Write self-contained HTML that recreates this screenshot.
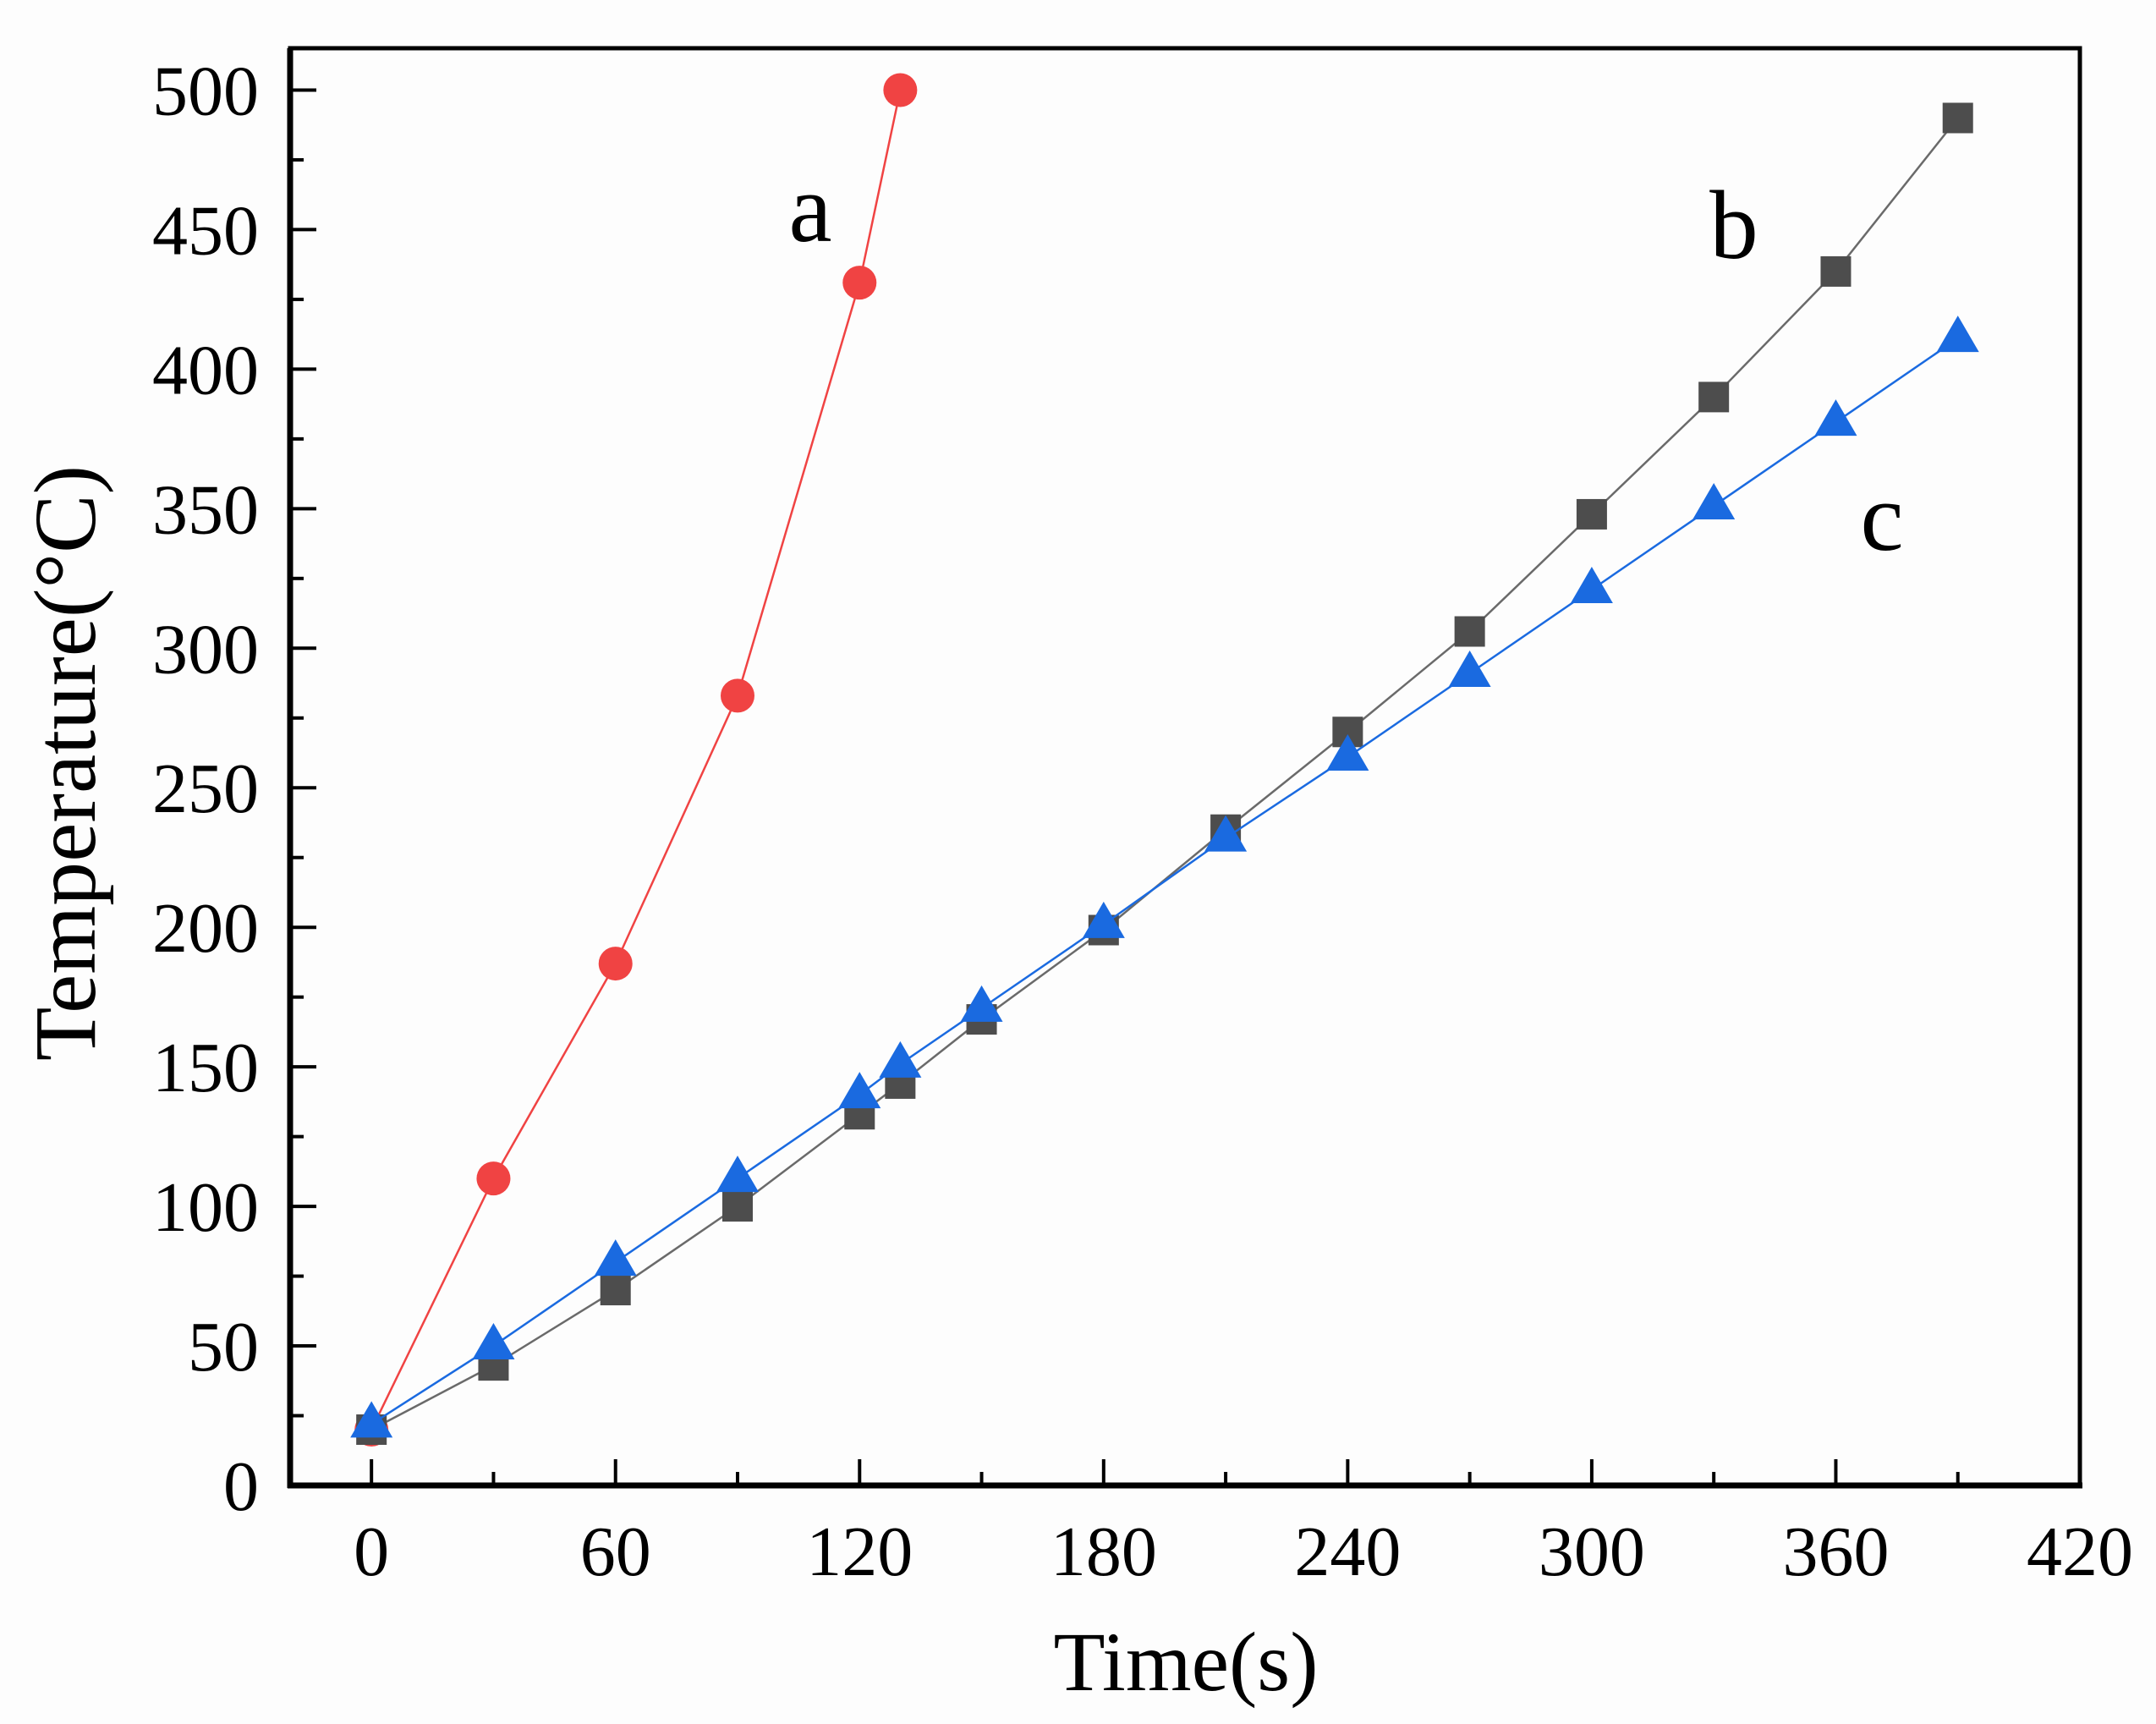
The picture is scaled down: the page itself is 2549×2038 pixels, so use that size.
<!DOCTYPE html>
<html><head><meta charset="utf-8"><style>
html,body{margin:0;padding:0;background:#fdfdfd;}
svg{display:block;font-family:"Liberation Serif",serif;}
</style></head><body>
<svg id="chart" width="2549" height="2038" viewBox="0 0 2549 2038" xmlns="http://www.w3.org/2000/svg">
<rect x="0" y="0" width="2549" height="2038" fill="#fdfdfd"/>
<g id="plot"></g>
</svg>
<script>
const xTicks = [0,60,120,180,240,300,360,420];
const yTicks = [0,50,100,150,200,250,300,350,400,450,500];
const timeA = [0,30,60,90,120,130];
const tempA = [20,110,187,283,431,500];
const timeB = [0,30,60,90,120,130,150,180,210,240,270,300,330,360,390];
const tempB = [20,43,70,100,133,144,167,199,235,270,306,348,390,435,490];
const timeC = [0,30,60,90,120,130,150,180,210,240,270,300,330,360,390];
const tempC = [22,50,80,110,140,151,171,201,232,261,291,321,351,381,411];

const NS='http://www.w3.org/2000/svg';
const L=343,R=2459,T=57,B=1756;
const X0=-20,X1=420,Y0=0,Y1=515;
function sx(v){return L+(v-X0)/(X1-X0)*(R-L);}
function sy(v){return B-(v-Y0)/(Y1-Y0)*(B-T);}
const g=document.getElementById('plot');
function mk(tag,attrs,parent){const e=document.createElementNS(NS,tag);for(const k in attrs)e.setAttribute(k,attrs[k]);(parent||g).appendChild(e);return e;}

const frame=mk('rect',{x:L,y:T,width:R-L,height:B-T,fill:'none',stroke:'#000','stroke-width':5});


const xAxis=mk('line',{x1:L-3,y1:B,x2:R+3,y2:B,stroke:'#000','stroke-width':7});


const yAxis=mk('line',{x1:L,y1:T,x2:L,y2:B+3,stroke:'#000','stroke-width':7});



xTicks.forEach((v,i)=>{
  const t=mk('line',{x1:sx(v),y1:B,x2:sx(v),y2:B-31,stroke:'#000','stroke-width':4});
  
  
  if(i<xTicks.length-1){
    const m=mk('line',{x1:sx(v+30),y1:B,x2:sx(v+30),y2:B-16,stroke:'#000','stroke-width':4});
    
    
  }
  const lb=mk('text',{x:sx(v),y:1862,'font-size':84,'text-anchor':'middle',fill:'#000'});
  lb.textContent=v;
  
  
});
yTicks.forEach((v,i)=>{
  const t=mk('line',{x1:L,y1:sy(v),x2:L+31,y2:sy(v),stroke:'#000','stroke-width':4});
  
  
  if(i<yTicks.length-1){
    const m=mk('line',{x1:L,y1:sy(v+25),x2:L+16,y2:sy(v+25),stroke:'#000','stroke-width':4});
    
    
  }
  const lb=mk('text',{x:306,y:sy(v)+29,'font-size':84,'text-anchor':'end',fill:'#000'});
  lb.textContent=v;
  
  
});

function series(xs,ys,color,lineColor,shape,name){
  const sg=mk('g',{});
  
  
  const pts=xs.map((x,i)=>sx(x)+','+sy(ys[i])).join(' ');
  const pl=mk('polyline',{points:pts,fill:'none',stroke:lineColor,'stroke-width':2.5},sg);
  
  
  xs.forEach((x,i)=>{
    const cx=sx(x),cy=sy(ys[i]);let m;
    if(shape==='circle') m=mk('circle',{cx:cx,cy:cy,r:20,fill:color},sg);
    else if(shape==='square') m=mk('rect',{x:cx-18,y:cy-18,width:36,height:36,fill:color},sg);
    else m=mk('polygon',{points:(cx)+','+(cy-27)+' '+(cx-25)+','+(cy+16)+' '+(cx+25)+','+(cy+16),fill:color},sg);
    
    
  });
}
series(timeA,tempA,'#f04343','#f04343','circle','a');
series(timeB,tempB,'#4d4d4d','#6a6a6a','square','b');
series(timeC,tempC,'#1a6ae0','#1a6ae0','triangle','c');

function label(txt,x,y,name,size){
  const t=mk('text',{x:x,y:y,'font-size':size,'text-anchor':'middle',fill:'#000'});
  t.textContent=txt;
  
  
}
label('a',958,285,'label-a',115);
label('b',2050,305,'label-b',115);
label('c',2225,650,'label-c',115);
label('Time(s)',1402,1998,'x-axis-title',100);
const yt=mk('text',{x:0,y:0,'font-size':104,'text-anchor':'middle',fill:'#000',transform:'translate(112,902) rotate(-90)'});
yt.textContent='Temperature(°C)';


</script>
</body></html>
